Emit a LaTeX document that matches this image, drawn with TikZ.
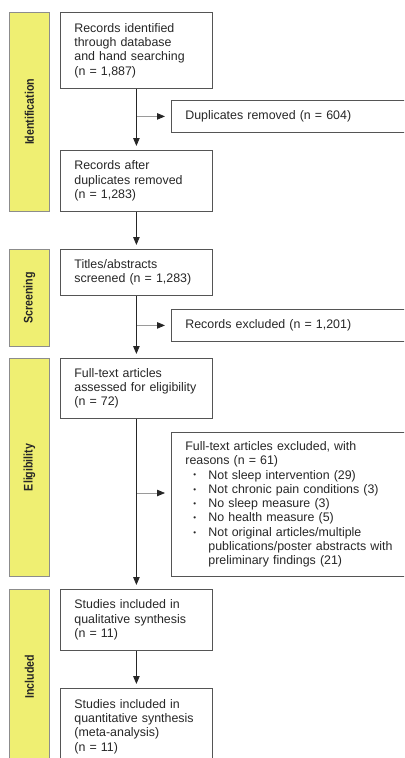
\documentclass[tikz,border=0pt]{standalone}
\usepackage{fontspec}
\setmainfont{Liberation Sans}
\newfontfamily\phasefont[FakeStretch=0.85]{Liberation Sans}
\usetikzlibrary{arrows.meta}
\definecolor{phaseyellow}{HTML}{EFEF72}
\definecolor{phaseedge}{HTML}{8C8C8C}
\definecolor{boxedge}{HTML}{555555}
\definecolor{sideline}{HTML}{9A9A9A}
\newcommand{\bitem}[1]{\hspace*{8bp}\makebox[15bp][l]{\raisebox{1.2bp}{\fontsize{8bp}{8bp}\selectfont\textbullet}}#1}
\newcommand{\bcont}{\hspace*{23bp}}

\begin{document}
\begin{tikzpicture}[x=1bp,y=-1bp,
  box/.style={draw=boxedge,line width=0.8bp,anchor=north west,align=left,inner xsep=14bp,inner ysep=0pt,text=black!85,font=\fontsize{12.4bp}{14.3bp}\selectfont},
  mainbox/.style={box,text width=124bp},
  sidebox/.style={box,text width=213bp},
  phase/.style={draw=phaseedge,fill=phaseyellow,line width=0.8bp,anchor=north west,minimum width=40bp,inner sep=0pt},
  phaselabel/.style={rotate=90,text=black!85,font=\phasefont\bfseries\fontsize{12.5bp}{14bp}\selectfont},
  flow/.style={-{Triangle[length=8bp,width=6.5bp]},line width=0.8bp,draw=black!85,shorten >=4bp},
  sidearrow/.style={-{Triangle[length=8bp,width=6.5bp,color=black!85]},line width=0.8bp,draw=sideline,shorten >=6bp}]
\useasboundingbox (0,0) rectangle (404,758);
\clip (0,0) rectangle (404,758);

%draw phase bars
\foreach \i/\y/\h/\lab in {1/12/199/Identification,2/249/97/Screening,3/358/218/Eligibility,4/589/175/Included}{
   \draw (9,\y) node[phase,minimum height=\h bp,name=bar\i] {};
   \draw (bar\i.center) node[phaselabel,name=lab\i] {\lab};
}

%draw main boxes
\draw (60,12) node[mainbox,minimum height=76bp,name=rec] {Records identified\\through database\\and hand searching\\(n = 1,887)};
\draw (60,150) node[mainbox,minimum height=61bp,name=dedup] {Records after\\duplicates removed\\(n = 1,283)};
\draw (60,249) node[mainbox,minimum height=46bp,name=scr] {Titles/abstracts\\screened (n = 1,283)};
\draw (60,358) node[mainbox,minimum height=60bp,name=full] {Full-text articles\\assessed for eligibility\\(n = 72)};
\draw (60,589) node[mainbox,minimum height=61bp,name=qual] {Studies included in\\qualitative synthesis\\(n = 11)};
\draw (60,688) node[mainbox,minimum height=76bp,name=quant] {Studies included in\\quantitative synthesis\\(meta-analysis)\\(n = 11)};

%draw exclusion boxes
\draw (171,100) node[sidebox,minimum height=32bp,name=dup] {Duplicates removed (n = 604)};
\draw (171,309) node[sidebox,minimum height=32bp,name=exc] {Records excluded (n = 1,201)};
\draw (171,432) node[sidebox,minimum height=144bp,name=fexc] {Full-text articles excluded, with\\reasons (n = 61)\\
\bitem{Not sleep intervention (29)}\\
\bitem{Not chronic pain conditions (3)}\\
\bitem{No sleep measure (3)}\\
\bitem{No health measure (5)}\\
\bitem{Not original articles/multiple}\\
\bcont publications/poster abstracts with\\
\bcont preliminary findings (21)};

%draw side arrows
\coordinate (fx) at (136,493);
\draw[sidearrow] (rec.south |- dup.west) -- (dup.west);
\draw[sidearrow] (scr.south |- exc.west) -- (exc.west);
\draw[sidearrow] (fx) -- (fexc.west |- fx);

%draw main arrows
\draw[flow] (rec) -- (dedup);
\draw[flow] (dedup) -- (scr);
\draw[flow] (scr) -- (full);
\draw[flow] (full) -- (qual);
\draw[flow] (qual) -- (quant);
\end{tikzpicture}
\end{document}
